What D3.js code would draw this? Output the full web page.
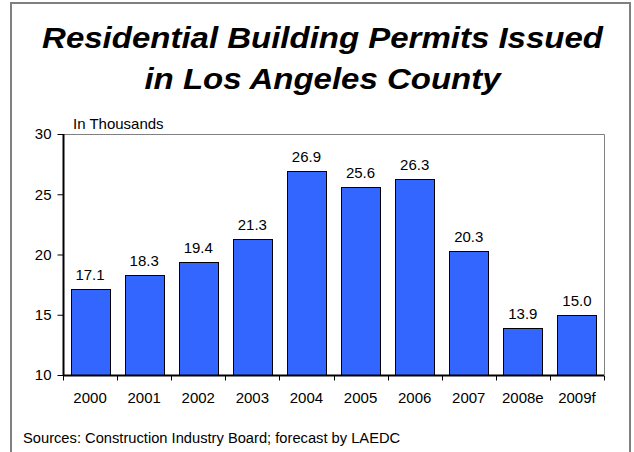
<!DOCTYPE html>
<html>
<head>
<meta charset="utf-8">
<script src="https://cdn.jsdelivr.net/npm/d3@7/dist/d3.min.js"></script>
<style>
  html, body { margin: 0; padding: 0; background: #fff; }
  svg { display: block; font-family: "Liberation Sans", Arial, sans-serif; }
</style>
</head>
<body>
<svg id="chart" width="634" height="452"></svg>
<script>
// Residential building permits, thousands
const years = ["2000", "2001", "2002", "2003", "2004", "2005", "2006", "2007", "2008e", "2009f"];
const permits = [17.1, 18.3, 19.4, 21.3, 26.9, 25.6, 26.3, 20.3, 13.9, 15.0];
const yTicks = [10, 15, 20, 25, 30];
const titleLines = ["Residential Building Permits Issued", "in Los Angeles County"];

const svg = d3.select("#chart");
const plot = { left: 63, top: 134, right: 604, bottom: 375 };

// outer frame
svg.append("rect")
  .attr("x", 11).attr("y", 3)
  .attr("width", 619).attr("height", 460)
  .attr("fill", "none").attr("stroke", "#808080").attr("stroke-width", 2);

// title, slightly widened
svg.append("g")
  .attr("transform", "translate(322.5,0) scale(1.1,1)")
  .selectAll("text").data(titleLines).join("text")
  .attr("x", 0)
  .attr("y", (d, i) => 48 + i * 41)
  .attr("text-anchor", "middle")
  .attr("font-size", 30).attr("font-weight", "bold").attr("font-style", "italic")
  .attr("fill", "#000")
  .text(d => d);

const x = d3.scaleBand().domain(years).range([plot.left, plot.right]).paddingInner(0.28).paddingOuter(0.14);
const y = d3.scaleLinear().domain([10, 30]).range([plot.bottom, plot.top]);

// plot-area frame (top and right edges)
svg.append("path")
  .attr("d", `M${plot.left},${plot.top + 0.5}H${plot.right + 0.5}V${plot.bottom}`)
  .attr("fill", "none").attr("stroke", "#808080").attr("stroke-width", 1);

// bars
svg.append("g").selectAll("rect").data(permits).join("rect")
  .attr("x", (d, i) => Math.round(x(years[i])) + 0.5)
  .attr("y", d => Math.round(y(d)) + 0.5)
  .attr("width", Math.round(x.bandwidth()))
  .attr("height", d => Math.round(y(10)) - Math.round(y(d)))
  .attr("fill", "#3366FF").attr("stroke", "#000").attr("stroke-width", 1);

// value labels
svg.append("g").selectAll("text").data(permits).join("text")
  .attr("x", (d, i) => x(years[i]) + x.bandwidth() / 2)
  .attr("y", d => y(d) - 9)
  .attr("text-anchor", "middle")
  .attr("font-size", 15).attr("fill", "#000")
  .text(d => d.toFixed(1));

// y axis
const yAxis = d3.axisLeft(y).tickValues(yTicks).tickSize(6).tickPadding(6);
const gy = svg.append("g").attr("transform", `translate(${plot.left + 0.5},0)`).call(yAxis);
gy.select(".domain").attr("stroke", "#000").attr("stroke-width", 2).attr("d", `M0,${plot.top}V${plot.bottom}`);
gy.selectAll(".tick line").attr("stroke", "#000");
gy.selectAll(".tick text").attr("font-size", 15).attr("font-family", null).attr("fill", "#000");

// x axis with ticks at category boundaries
const gx = svg.append("g").attr("transform", `translate(0,${plot.bottom + 0.5})`);
gx.append("line").attr("x1", plot.left).attr("x2", plot.right).attr("stroke", "#000").attr("stroke-width", 2);
const bounds = d3.range(years.length + 1).map(i => plot.left + i * (plot.right - plot.left) / years.length);
gx.selectAll("line.tk").data(bounds).join("line").attr("class", "tk")
  .attr("x1", d => Math.round(d) + 0.5).attr("x2", d => Math.round(d) + 0.5)
  .attr("y1", 0).attr("y2", 5).attr("stroke", "#000");
gx.selectAll("text").data(years).join("text")
  .attr("x", d => x(d) + x.bandwidth() / 2)
  .attr("y", 27)
  .attr("text-anchor", "middle")
  .attr("font-size", 15).attr("fill", "#000")
  .text(d => d);

// unit label
svg.append("text").attr("x", 73).attr("y", 129)
  .attr("font-size", 15).attr("fill", "#000").text("In Thousands");

// source note
svg.append("text").attr("x", 23).attr("y", 443)
  .attr("font-size", 14.7).attr("fill", "#000")
  .text("Sources: Construction Industry Board; forecast by LAEDC");
</script>
</body>
</html>
